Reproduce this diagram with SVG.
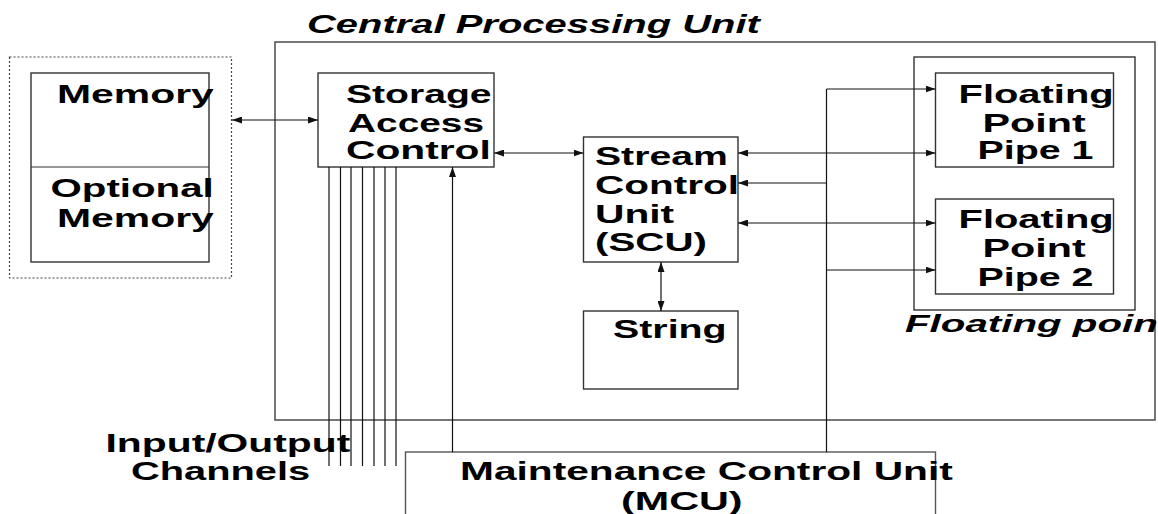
<svg xmlns="http://www.w3.org/2000/svg" width="1158" height="514" viewBox="0 0 1158 514">
<defs>
<style>
.box{fill:#fff;stroke:#333;stroke-width:1.4}
.frame{fill:none;stroke:#555;stroke-width:1.6}
.dot{fill:none;stroke:#444;stroke-width:1.2;stroke-dasharray:2 2}
.ln{fill:none;stroke:#111;stroke-width:1.2}
.t{font-family:"Liberation Sans",Arial,sans-serif;font-weight:bold;font-size:25px;fill:#000}
.it{font-family:"Liberation Sans",Arial,sans-serif;font-weight:bold;font-style:italic;font-size:25px;fill:#000}
</style>
<marker id="ah" viewBox="0 0 10 7" refX="10" refY="3.5" markerWidth="10" markerHeight="7" markerUnits="userSpaceOnUse" orient="auto-start-reverse">
<path d="M0,0 L10,3.5 L0,7 z" fill="#111"/>
</marker>
</defs>
<rect width="1158" height="514" fill="#fff"/>

<g id="cpu">
<rect class="frame" x="275" y="42" width="880" height="378"/>
<text class="it" transform="translate(307,33) scale(1.6,1)" textLength="283" lengthAdjust="spacingAndGlyphs">Central Processing Unit</text>
</g>

<g id="memory-group">
<rect class="dot" x="9.5" y="57" width="222" height="221"/>
<rect class="box" x="31" y="73" width="178" height="189"/>
<line class="ln" x1="31" y1="167" x2="209" y2="167" style="stroke:#333"/>
<text class="t" transform="translate(57,103) scale(1.6,1)" textLength="98" lengthAdjust="spacingAndGlyphs">Memory</text>
<text class="t" transform="translate(50.5,197) scale(1.6,1)" textLength="102" lengthAdjust="spacingAndGlyphs">Optional</text>
<text class="t" transform="translate(57,227) scale(1.6,1)" textLength="98" lengthAdjust="spacingAndGlyphs">Memory</text>
</g>

<g id="sac">
<rect class="box" x="318" y="73" width="176" height="94"/>
<text class="t" transform="translate(346,103) scale(1.6,1)" textLength="91" lengthAdjust="spacingAndGlyphs">Storage</text>
<text class="t" transform="translate(348,132) scale(1.6,1)" textLength="85" lengthAdjust="spacingAndGlyphs">Access</text>
<text class="t" transform="translate(346,159) scale(1.6,1)" textLength="90.5" lengthAdjust="spacingAndGlyphs">Control</text>
</g>

<g id="scu">
<rect class="box" x="583.5" y="137" width="154.5" height="125"/>
<text class="t" transform="translate(595,165) scale(1.6,1)" textLength="83" lengthAdjust="spacingAndGlyphs">Stream</text>
<text class="t" transform="translate(595,194) scale(1.6,1)" textLength="90" lengthAdjust="spacingAndGlyphs">Control</text>
<text class="t" transform="translate(595,223) scale(1.6,1)" textLength="49.5" lengthAdjust="spacingAndGlyphs">Unit</text>
<text class="t" transform="translate(595,251) scale(1.6,1)" textLength="70" lengthAdjust="spacingAndGlyphs">(SCU)</text>
</g>

<g id="string">
<rect class="box" x="583.5" y="311" width="154.5" height="78"/>
<text class="t" transform="translate(613,338) scale(1.6,1)" textLength="71" lengthAdjust="spacingAndGlyphs">String</text>
</g>

<g id="fp-group">
<rect class="box" x="914" y="57" width="221" height="253"/>
<text class="it" transform="translate(905,332) scale(1.6,1)" style="font-size:23px" textLength="158" lengthAdjust="spacingAndGlyphs">Floating poin</text>
</g>

<g id="fp1">
<rect class="box" x="935.5" y="73" width="178" height="94"/>
<text class="t" transform="translate(958.5,103) scale(1.6,1)" textLength="97" lengthAdjust="spacingAndGlyphs">Floating</text>
<text class="t" transform="translate(982.5,132) scale(1.6,1)" textLength="64.5" lengthAdjust="spacingAndGlyphs">Point</text>
<text class="t" transform="translate(977.5,159) scale(1.6,1)" textLength="72.5" lengthAdjust="spacingAndGlyphs">Pipe 1</text>
</g>

<g id="fp2">
<rect class="box" x="935.5" y="199" width="178" height="95"/>
<text class="t" transform="translate(958.5,228) scale(1.6,1)" textLength="97" lengthAdjust="spacingAndGlyphs">Floating</text>
<text class="t" transform="translate(982.5,257) scale(1.6,1)" textLength="64.5" lengthAdjust="spacingAndGlyphs">Point</text>
<text class="t" transform="translate(977.5,286) scale(1.6,1)" textLength="72.5" lengthAdjust="spacingAndGlyphs">Pipe 2</text>
</g>

<g id="io-label">
<text class="t" transform="translate(105.5,452) scale(1.6,1)" textLength="153" lengthAdjust="spacingAndGlyphs">Input/Output</text>
<text class="t" transform="translate(131,480) scale(1.6,1)" textLength="112" lengthAdjust="spacingAndGlyphs">Channels</text>
</g>

<g id="mcu">
<rect class="box" x="405.5" y="452" width="530" height="90" style="stroke:#555"/>
<text class="t" transform="translate(460,480) scale(1.6,1)" textLength="308" lengthAdjust="spacingAndGlyphs">Maintenance Control Unit</text>
<text class="t" transform="translate(621,510) scale(1.6,1)" textLength="76" lengthAdjust="spacingAndGlyphs">(MCU)</text>
</g>

<g id="connectors">
<line class="ln" x1="232" y1="120" x2="318" y2="120" marker-start="url(#ah)" marker-end="url(#ah)"/>
<line class="ln" x1="494" y1="153" x2="583.5" y2="153" marker-start="url(#ah)" marker-end="url(#ah)"/>
<line class="ln" x1="738" y1="153" x2="935.5" y2="153" marker-start="url(#ah)" marker-end="url(#ah)"/>
<line class="ln" x1="738" y1="223" x2="935.5" y2="223" marker-start="url(#ah)" marker-end="url(#ah)"/>
<line class="ln" x1="661" y1="262" x2="661" y2="311" marker-start="url(#ah)" marker-end="url(#ah)"/>
<line class="ln" x1="826.5" y1="89" x2="826.5" y2="452"/>
<line class="ln" x1="826.5" y1="89" x2="935.5" y2="89" marker-end="url(#ah)"/>
<line class="ln" x1="826.5" y1="183" x2="738" y2="183" marker-end="url(#ah)"/>
<line class="ln" x1="826.5" y1="270" x2="935.5" y2="270" marker-end="url(#ah)"/>
<line class="ln" x1="452.5" y1="452" x2="452.5" y2="167" marker-end="url(#ah)"/>
<line class="ln" x1="329" y1="167" x2="329" y2="466"/>
<line class="ln" x1="340.5" y1="167" x2="340.5" y2="466"/>
<line class="ln" x1="351" y1="167" x2="351" y2="466"/>
<line class="ln" x1="362.5" y1="167" x2="362.5" y2="466"/>
<line class="ln" x1="374" y1="167" x2="374" y2="466"/>
<line class="ln" x1="385" y1="167" x2="385" y2="466"/>
<line class="ln" x1="396" y1="167" x2="396" y2="466"/>
</g>
</svg>
